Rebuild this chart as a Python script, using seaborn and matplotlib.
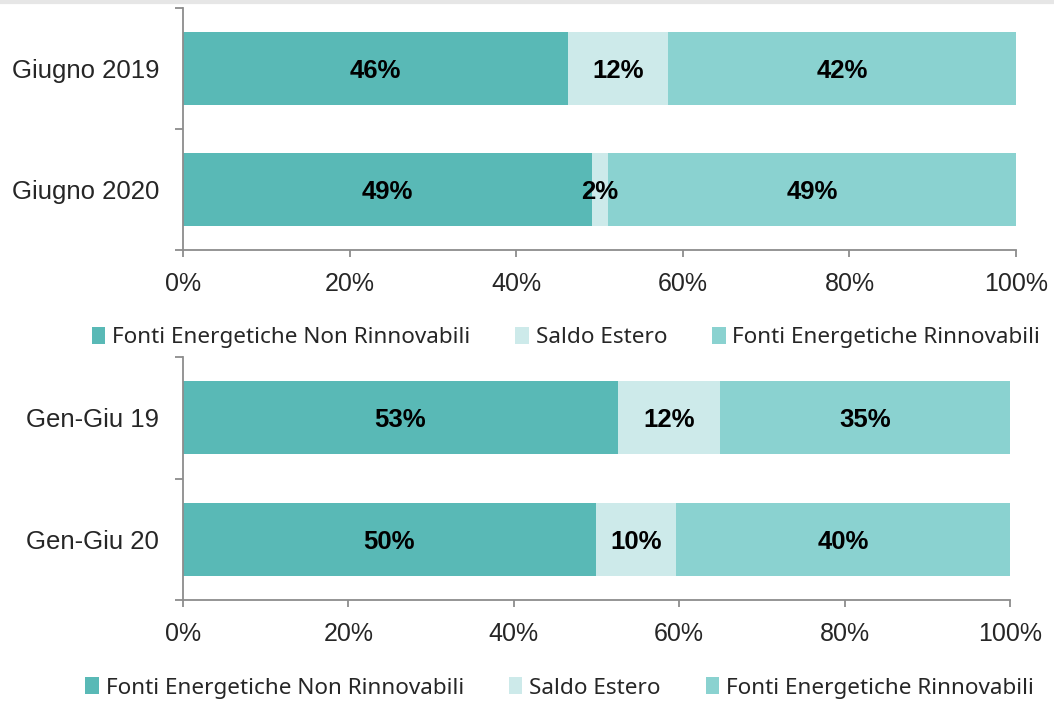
import numpy as np
import pandas as pd
import matplotlib
matplotlib.use("Agg")
import matplotlib.pyplot as plt
from matplotlib.patches import Patch
from matplotlib.lines import Line2D
import seaborn as sns

# --- Data ---
series = ["Fonti Energetiche Non Rinnovabili", "Saldo Estero", "Fonti Energetiche Rinnovabili"]
colors = ["#59B9B6", "#CDEAEA", "#8AD2D0"]

cat_month = ["Giugno 2019", "Giugno 2020"]
non_rinn_month = [46.2, 49.1]
saldo_month = [12.0, 1.9]
rinn_month = [41.8, 49.0]
labels_month = [["46%", "12%", "42%"], ["49%", "2%", "49%"]]

cat_ytd = ["Gen-Giu 19", "Gen-Giu 20"]
non_rinn_ytd = [52.6, 49.9]
saldo_ytd = [12.3, 9.7]
rinn_ytd = [35.1, 40.4]
labels_ytd = [["53%", "12%", "35%"], ["50%", "10%", "40%"]]

x_ticks = [0, 20, 40, 60, 80, 100]
x_ticklabels = ["0%", "20%", "40%", "60%", "80%", "100%"]

sns.set_style("white")
plt.rcParams["font.family"] = ["Liberation Sans", "DejaVu Sans"]

AXIS_GRAY = "#8c8c8c"


def stacked_panel(ax, cats, a, b, c, labels):
    df = pd.DataFrame({"cat": cats, "a": a, "b": b, "c": c})
    df["ab"] = df["a"] + df["b"]
    df["abc"] = df["ab"] + df["c"]
    # cumulative overlay: draw totals first, then partial sums on top
    for col, color in zip(["abc", "ab", "a"], colors[::-1]):
        sns.barplot(data=df, y="cat", x=col, color=color, width=0.6,
                    orient="y", saturation=1, ax=ax, linewidth=0)
    # centred value labels
    for i, row in df.iterrows():
        centers = [row["a"] / 2, row["a"] + row["b"] / 2, row["ab"] + row["c"] / 2]
        for cx, txt in zip(centers, labels[i]):
            ax.text(cx, i, txt, ha="center", va="center_baseline", fontsize=18.5,
                    fontweight="bold", color="black")
    ax.set_xlim(0, 100)
    ax.set_ylim(1.5, -0.5)
    ax.set_xlabel("")
    ax.set_ylabel("")
    ax.set_xticks(x_ticks)
    ax.set_xticklabels(x_ticklabels)
    ax.set_yticks([0, 1])
    ax.set_yticklabels(cats)
    ax.set_yticks([-0.5, 0.5, 1.5], minor=True)
    ax.tick_params(axis="y", which="major", length=0, pad=17, labelsize=18.5)
    ax.tick_params(axis="y", which="minor", length=6, width=1.3,
                   color=AXIS_GRAY, direction="out", left=True)
    ax.tick_params(axis="x", length=5, width=1.3, color=AXIS_GRAY,
                   direction="out", bottom=True, pad=11, labelsize=18)
    for s in ["top", "right"]:
        ax.spines[s].set_visible(False)
    for s in ["left", "bottom"]:
        ax.spines[s].set_color(AXIS_GRAY)
        ax.spines[s].set_linewidth(1.3)


fig = plt.figure(figsize=(10.54, 7.01), dpi=100)
ax1 = fig.add_axes([0.1736, 0.6434, 0.7904, 0.3452])
ax2 = fig.add_axes([0.1736, 0.1441, 0.7847, 0.3466])

stacked_panel(ax1, cat_month, non_rinn_month, saldo_month, rinn_month, labels_month)
stacked_panel(ax2, cat_ytd, non_rinn_ytd, saldo_ytd, rinn_ytd, labels_ytd)

handles = [Patch(facecolor=c, edgecolor="none", label=s) for c, s in zip(colors, series)]
legend_kw = dict(ncol=3, frameon=False, handlelength=0.6, handleheight=0.75,
                 handletextpad=0.3, columnspacing=2.0,
                 prop={"family": "Noto Sans", "size": 16.2})
fig.legend(handles=handles, loc="center", bbox_to_anchor=(0.537, 0.518), **legend_kw)
fig.legend(handles=handles, loc="center", bbox_to_anchor=(0.531, 0.0186), **legend_kw)

# faint shadow band at the very top of the frame
fig.add_artist(Line2D([0, 1], [0.997, 0.997], transform=fig.transFigure,
                      color="#e6e6e6", linewidth=3))

fig.savefig("out.png", dpi=100)
